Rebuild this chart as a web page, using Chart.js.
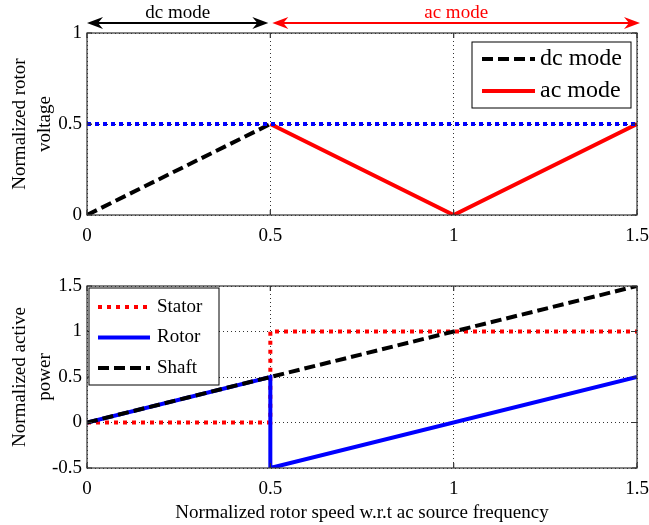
<!DOCTYPE html>
<html>
<head>
  <meta charset="utf-8">
  <title>Rotor voltage and active power</title>
  <script src="https://cdn.jsdelivr.net/npm/chart.js"></script>
  <style>
    body { margin: 0; background: #fff; }
    canvas { position: absolute; left: 0; }
    #voltageChart { top: 0; }
    #powerChart { top: 250px; }
  </style>
</head>
<body>
  <canvas id="voltageChart" width="649" height="250"></canvas>
  <canvas id="powerChart" width="649" height="275"></canvas>

  <script>
    // rotor speed, normalized to the ac source frequency
    const speedTicks = [0, 0.5, 1, 1.5];

    // upper panel: normalized rotor voltage
    const dcSpeed = [0, 0.5];
    const dcVoltage = [0, 0.5];
    const acSpeed = [0.5, 1, 1.5];
    const acVoltage = [0.5, 0, 0.5];
    const limitSpeed = [0, 1.5];
    const limitVoltage = [0.5, 0.5];

    // lower panel: normalized active power
    const statorSpeed = [0, 0.5, 0.5, 1.5];
    const statorPower = [0, 0, 1, 1];
    const rotorSpeed = [0, 0.5, 0.5, 1.5];
    const rotorPower = [0, 0.5, -0.5, 0.5];
    const shaftSpeed = [0, 1.5];
    const shaftPower = [0, 1.5];

    // operating regions marked above the upper panel
    const modeNames = ['dc mode', 'ac mode'];
    const modeFrom = [0, 0.5];
    const modeTo = [0.5, 1.5];

    const serif = '"Liberation Serif", "Times New Roman", serif';
    Chart.defaults.font.family = serif;
    Chart.defaults.color = '#000';

    const pts = (xs, ys) => xs.map((x, i) => ({ x: x, y: ys[i] }));

    // frame around the plot area, with short inward ticks on every side
    const axesBox = {
      id: 'axesBox',
      afterDraw(chart) {
        const { ctx, chartArea: a, scales } = chart;
        ctx.save();
        ctx.strokeStyle = '#333';
        ctx.lineWidth = 1.2;
        ctx.beginPath();
        scales.x.ticks.forEach(t => {
          const px = scales.x.getPixelForValue(t.value);
          ctx.moveTo(px, a.bottom); ctx.lineTo(px, a.bottom - 5);
          ctx.moveTo(px, a.top); ctx.lineTo(px, a.top + 5);
        });
        scales.y.ticks.forEach(t => {
          const py = scales.y.getPixelForValue(t.value);
          ctx.moveTo(a.left, py); ctx.lineTo(a.left + 5, py);
          ctx.moveTo(a.right, py); ctx.lineTo(a.right - 5, py);
        });
        ctx.stroke();
        ctx.strokeRect(a.left, a.top, a.width, a.height);
        ctx.restore();
      }
    };

    // boxed legend sitting inside the plot area
    const boxLegend = {
      id: 'boxLegend',
      afterDraw(chart, args, opts) {
        const { ctx, chartArea: a } = chart;
        const left = opts.right !== undefined ? a.right - opts.right - opts.width : a.left + opts.left;
        const top = a.top + opts.top;
        ctx.save();
        ctx.fillStyle = '#fff';
        ctx.fillRect(left, top, opts.width, opts.height);
        ctx.strokeStyle = '#000';
        ctx.lineWidth = 1;
        ctx.strokeRect(left, top, opts.width, opts.height);
        ctx.font = opts.fontSize + 'px ' + serif;
        ctx.textBaseline = 'middle';
        opts.items.forEach((idx, i) => {
          const ds = chart.data.datasets[idx];
          const y = top + opts.firstRow + i * opts.rowGap;
          ctx.beginPath();
          ctx.setLineDash(ds.borderDash || []);
          ctx.strokeStyle = ds.borderColor;
          ctx.lineWidth = ds.borderWidth;
          ctx.moveTo(left + opts.lineFrom, y);
          ctx.lineTo(left + opts.lineTo, y);
          ctx.stroke();
          ctx.setLineDash([]);
          ctx.fillStyle = '#000';
          ctx.fillText(ds.label, left + opts.textAt, y);
        });
        ctx.restore();
      }
    };

    function arrowHead(ctx, tipX, y, dir) {
      ctx.beginPath();
      ctx.moveTo(tipX, y);
      ctx.lineTo(tipX - dir * 16, y - 6);
      ctx.lineTo(tipX - dir * 11, y);
      ctx.lineTo(tipX - dir * 16, y + 6);
      ctx.closePath();
      ctx.fill();
    }

    // double arrows with the mode names above the upper panel
    const modeArrows = {
      id: 'modeArrows',
      afterDraw(chart, args, opts) {
        const { ctx, scales: { x } } = chart;
        const y = opts.y;
        ctx.save();
        ctx.font = opts.fontSize + 'px ' + serif;
        ctx.textAlign = 'center';
        ctx.textBaseline = 'alphabetic';
        modeNames.forEach((name, i) => {
          const x0 = x.getPixelForValue(modeFrom[i]) + opts.startShift[i];
          const x1 = x.getPixelForValue(modeTo[i]) + opts.endShift[i];
          ctx.strokeStyle = opts.colors[i];
          ctx.fillStyle = opts.colors[i];
          ctx.lineWidth = 2;
          ctx.beginPath();
          ctx.moveTo(x0 + 8, y);
          ctx.lineTo(x1 - 8, y);
          ctx.stroke();
          arrowHead(ctx, x0, y, -1);
          arrowHead(ctx, x1, y, 1);
          ctx.fillText(name, (x0 + x1) / 2, y - 5);
        });
        ctx.restore();
      }
    };

    const tickFont = { size: 19 };
    const titleFont = { size: 19, lineHeight: 1.3 };

    function speedAxis(title, height) {
      return {
        type: 'linear',
        min: 0,
        max: 1.5,
        afterBuildTicks: s => { s.ticks = speedTicks.map(v => ({ value: v })); },
        ticks: { font: tickFont, padding: 10, callback: v => String(v) },
        grid: { color: '#333', lineWidth: 1, drawTicks: false },
        border: { display: false, dash: [1, 3] },
        title: { display: !!title, text: title, font: { size: 19 }, padding: { top: 0, bottom: 1 } },
        afterFit: s => {
          s.height = height;
          s.paddingLeft = 0;
          s.paddingRight = 0;
        }
      };
    }

    function valueAxis(min, max, title) {
      return {
        min: min,
        max: max,
        ticks: { stepSize: 0.5, font: tickFont, padding: 5, callback: v => String(v) },
        grid: { color: '#333', lineWidth: 1, drawTicks: false },
        border: { display: false, dash: [1, 3] },
        title: { display: true, text: title, font: titleFont, padding: { top: 8, bottom: 0 } },
        afterFit: s => { s.width = 87; }
      };
    }

    const lineStyle = { pointRadius: 0, borderWidth: 4, tension: 0, fill: false };

    new Chart(document.getElementById('voltageChart'), {
      type: 'line',
      data: {
        datasets: [
          { ...lineStyle, label: 'dc mode', data: pts(dcSpeed, dcVoltage),
            borderColor: '#000', borderDash: [11, 5], order: 1 },
          { ...lineStyle, label: 'ac mode', data: pts(acSpeed, acVoltage),
            borderColor: '#f00', order: 2 },
          { ...lineStyle, label: '', data: pts(limitSpeed, limitVoltage),
            borderColor: '#00f', borderDash: [4, 4], order: 0 }
        ]
      },
      options: {
        responsive: false,
        animation: false,
        events: [],
        layout: { padding: { left: 0, right: 12, top: 33, bottom: 0 } },
        scales: {
          x: speedAxis('', 35),
          y: valueAxis(0, 1, ['Normalized rotor', 'voltage'])
        },
        plugins: {
          legend: { display: false },
          tooltip: { enabled: false },
          boxLegend: { right: 6, top: 9, width: 159, height: 66, firstRow: 17, rowGap: 32,
            lineFrom: 10, lineTo: 63, textAt: 68, fontSize: 24, items: [0, 1] },
          modeArrows: { y: 23, fontSize: 19, colors: ['#000', '#f00'],
            startShift: [0, 2], endShift: [-2, 3] }
        }
      },
      plugins: [axesBox, boxLegend, modeArrows]
    });

    new Chart(document.getElementById('powerChart'), {
      type: 'line',
      data: {
        datasets: [
          { ...lineStyle, label: 'Stator', data: pts(statorSpeed, statorPower),
            borderColor: '#f00', borderDash: [4, 5], order: 2 },
          { ...lineStyle, label: 'Rotor', data: pts(rotorSpeed, rotorPower),
            borderColor: '#00f', order: 1 },
          { ...lineStyle, label: 'Shaft', data: pts(shaftSpeed, shaftPower),
            borderColor: '#000', borderDash: [11, 5], order: 0 }
        ]
      },
      options: {
        responsive: false,
        animation: false,
        events: [],
        layout: { padding: { left: 0, right: 12, top: 36, bottom: 0 } },
        scales: {
          x: speedAxis('Normalized rotor speed w.r.t ac source frequency', 57),
          y: valueAxis(-0.5, 1.5, ['Normalized active', 'power'])
        },
        plugins: {
          legend: { display: false },
          tooltip: { enabled: false },
          boxLegend: { left: 2, top: 2, width: 130, height: 97, firstRow: 19, rowGap: 30.5,
            lineFrom: 9, lineTo: 61, textAt: 68, fontSize: 19, items: [0, 1, 2] }
        }
      },
      plugins: [axesBox, boxLegend]
    });
  </script>
</body>
</html>
